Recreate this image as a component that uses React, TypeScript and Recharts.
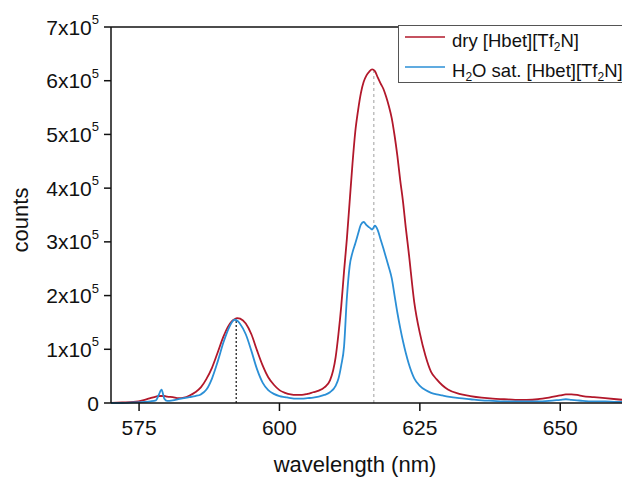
import { Label, Line, LineChart, ReferenceLine, XAxis, YAxis } from 'recharts'

const FONT = '"Liberation Sans", Arial, sans-serif'
const RED = '#b2182b'
const BLUE = '#2b8fd6'

const wavelengths = [
  570, 572, 574, 576, 577, 578, 578.5, 579, 579.5, 580, 581, 582, 583, 584, 585, 586, 587, 588, 589, 590,
  591, 591.5, 592, 592.5, 593, 594, 595, 596, 597, 598, 599, 600, 601, 602, 603, 604, 605, 606, 607, 608,
  609, 610, 610.5, 611, 611.5, 612, 612.5, 613, 613.5, 614, 614.5, 615, 615.5, 616, 616.5, 617, 617.5, 618,
  618.5, 619, 619.5, 620, 620.5, 621, 621.5, 622, 622.5, 623, 624, 625, 626, 627, 628, 629, 630, 632, 634,
  636, 638, 640, 642, 644, 646, 648, 650, 651, 652, 653, 654, 656, 658, 660, 661
]

// dry [Hbet][Tf2N]
const dryCounts = [
  0, 1000, 2000, 6000, 9000, 12000, 13000, 13000, 13000, 12000, 11000, 9000, 10000, 14000, 20000, 29000, 45000, 66000, 94000, 123000,
  145000, 152000, 156000, 158000, 157000, 148000, 128000, 98000, 70000, 48000, 34000, 24000, 19000, 16000, 15000, 15000, 17000, 20000, 23000, 29000,
  42000, 85000, 128000, 180000, 245000, 305000, 375000, 445000, 505000, 545000, 577000, 598000, 610000, 617000, 621000, 618000, 606000, 595000,
  585000, 570000, 552000, 530000, 498000, 460000, 415000, 375000, 326000, 282000, 188000, 130000, 88000, 58000, 44000, 33000, 25000, 17000, 13000,
  10000, 8000, 7000, 6000, 6000, 7000, 10000, 14000, 16000, 16000, 15000, 13000, 11000, 9000, 7000, 6000
]

// H2O sat. [Hbet][Tf2N]
const wetCounts = [
  0, 0, 1000, 2000, 3000, 5000, 15000, 25000, 8000, 4000, 5000, 7000, 9000, 11000, 13000, 16000, 25000, 46000, 77000, 112000,
  140000, 150000, 155000, 153000, 147000, 128000, 97000, 63000, 38000, 24000, 17000, 13000, 11000, 9000, 8000, 8000, 9000, 10000, 12000, 15000,
  20000, 32000, 45000, 70000, 105000, 195000, 255000, 280000, 297000, 315000, 332000, 337000, 331000, 327000, 323000, 330000, 322000, 305000,
  288000, 270000, 252000, 232000, 200000, 168000, 140000, 115000, 93000, 74000, 46000, 32000, 24000, 19000, 16000, 14000, 12000, 9000, 7000,
  5000, 4000, 3000, 3000, 3000, 3000, 4000, 6000, 7000, 6000, 5000, 4000, 3000, 3000, 2000, 2000
]

const xTicks = [575, 600, 625, 650]
const yTicks = [0, 100000, 200000, 300000, 400000, 500000, 600000, 700000]

const data = wavelengths.map((nm, i) => ({ nm, dry: dryCounts[i], wet: wetCounts[i] }))

function YTick({ x, y, payload }: { x: number; y: number; payload: { value: number } }) {
  const n = payload.value / 100000
  return (
    <text x={x} y={y} textAnchor="end" dominantBaseline="central" fontSize={21} fontFamily={FONT} fill="#111">
      {n === 0 ? (
        '0'
      ) : (
        <>
          {n}x10
          <tspan dy={-8} fontSize={13}>5</tspan>
        </>
      )}
    </text>
  )
}

function Legend() {
  return (
    <div
      style={{
        position: 'absolute',
        left: 398,
        top: 25,
        width: 240,
        height: 58,
        border: '1.5px solid #555',
        background: '#fff',
        boxSizing: 'border-box'
      }}
    >
      <svg width={240} height={55} style={{ display: 'block', overflow: 'visible' }} fontFamily={FONT} fontSize={18.5} fill="#111">
        <line x1={6} x2={46} y1={11} y2={11} stroke={RED} strokeWidth={1.5} />
        <text x={53} y={21}>
          dry [Hbet][Tf<tspan dy={4} fontSize={12}>2</tspan>
          <tspan dy={-4}>N]</tspan>
        </text>
        <line x1={6} x2={46} y1={41} y2={41} stroke={BLUE} strokeWidth={1.5} />
        <text x={53} y={51}>
          H<tspan dy={4} fontSize={12}>2</tspan>
          <tspan dy={-4}>O sat. [Hbet][Tf</tspan>
          <tspan dy={4} fontSize={12}>2</tspan>
          <tspan dy={-4}>N]</tspan>
        </text>
      </svg>
    </div>
  )
}

export default function App() {
  return (
    <div style={{ position: 'absolute', left: 0, top: 0, width: 622, height: 477, overflow: 'hidden', background: '#fff' }}>
      <LineChart width={622} height={477} data={data} margin={{ top: 27, right: 0, bottom: 0, left: 0 }}>
        <XAxis
          type="number"
          dataKey="nm"
          domain={[570, 661]}
          ticks={xTicks}
          allowDataOverflow
          height={74}
          tickSize={8}
          tickMargin={9}
          axisLine={{ stroke: '#111', strokeWidth: 1.5 }}
          tickLine={{ stroke: '#111', strokeWidth: 1.5 }}
          tick={{ fill: '#111', fontSize: 21, fontFamily: FONT }}
        >
          <Label
            content={() => (
              <text x={355} y={472} textAnchor="middle" fontSize={22} fontFamily={FONT} fill="#111">
                wavelength (nm)
              </text>
            )}
          />
        </XAxis>
        <YAxis
          type="number"
          domain={[0, 700000]}
          ticks={yTicks}
          width={111}
          tickSize={7}
          tickMargin={5}
          axisLine={{ stroke: '#111', strokeWidth: 1.5 }}
          tickLine={{ stroke: '#111', strokeWidth: 1.5 }}
          tick={YTick}
        >
          <Label
            content={() => (
              <text x={28} y={220} transform="rotate(-90, 28, 220)" textAnchor="middle" fontSize={22} fontFamily={FONT} fill="#111">
                counts
              </text>
            )}
          />
        </YAxis>
        <ReferenceLine y={700000} stroke="#111" strokeWidth={1.5} />
        <ReferenceLine
          segment={[{ x: 592.3, y: 0 }, { x: 592.3, y: 155000 }]}
          stroke="#222"
          strokeWidth={1.3}
          strokeDasharray="2 2"
        />
        <ReferenceLine
          segment={[{ x: 616.8, y: 0 }, { x: 616.8, y: 620000 }]}
          stroke="#b5b5b5"
          strokeWidth={1.3}
          strokeDasharray="3 3"
        />
        <Line type="monotone" dataKey="dry" stroke={RED} strokeWidth={1.8} dot={false} isAnimationActive={false} />
        <Line type="monotone" dataKey="wet" stroke={BLUE} strokeWidth={1.8} dot={false} isAnimationActive={false} />
      </LineChart>
      <Legend />
    </div>
  )
}
